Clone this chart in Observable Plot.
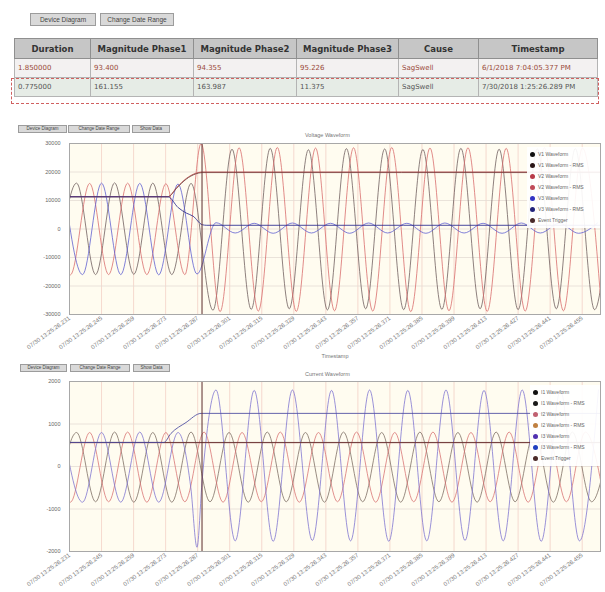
<!DOCTYPE html>
<html><head><meta charset="utf-8">
<script src="https://cdn.jsdelivr.net/npm/d3@7"></script>
<script src="https://cdn.jsdelivr.net/npm/@observablehq/plot@0.6"></script>
<style>
html,body{margin:0;padding:0;background:#fff;}
#page{position:relative;width:605px;height:592px;overflow:hidden;font-family:"DejaVu Sans",Verdana,sans-serif;}
.btn{position:absolute;background:#d9d9d9;border:1px solid #9c9c9c;box-sizing:border-box;color:#444;font-family:"Liberation Sans",Arial,sans-serif;text-align:center;white-space:nowrap;overflow:hidden;}
.btn.big{height:13px;font-size:6.5px;line-height:11px;}
.btn.small{height:8px;font-size:4.5px;line-height:6px;}
table{position:absolute;left:14px;top:38px;border-collapse:collapse;table-layout:fixed;width:583px;}
th{background:#c6c6c6;border:1px solid #8f8f8f;height:19px;font-size:8.5px;color:#333;padding:0;white-space:nowrap;overflow:hidden;}
td{border:1px solid #b4b4b4;height:18px;font-size:7px;padding:0 0 0 3px;color:#555;white-space:nowrap;overflow:hidden;}
tr.r1 td{background:#f3f1f1;color:#9a4a3a;}
tr.r2 td{background:#e6ece6;}
#sel{position:absolute;left:11px;top:78px;width:588px;height:26px;border:1px dashed #d06060;box-sizing:border-box;}
.title{position:absolute;font-family:"Liberation Sans",Arial,sans-serif;font-size:5.5px;color:#777;white-space:nowrap;}
.chart{position:absolute;left:0;}
.legend{position:absolute;background:rgba(255,255,255,0.92);font-family:"Liberation Sans",Arial,sans-serif;font-size:5px;color:#666;}
.legend .it{position:absolute;left:0;height:8px;line-height:8px;white-space:nowrap;}
.legend .mk{position:absolute;left:3px;top:1.5px;width:5px;height:5px;border-radius:50%;}
.legend .lb{position:absolute;left:11px;top:0;}
</style></head>
<body><div id="page"></div>
<script>
// ---------- table data ----------
const headers = ["Duration","Magnitude Phase1","Magnitude Phase2","Magnitude Phase3","Cause","Timestamp"];
const colWidths = [76,103,103,102,80,119];
const durations = ["1.850000","0.775000"];
const mag1 = ["93.400","161.155"];
const mag2 = ["94.355","163.987"];
const mag3 = ["95.226","11.375"];
const causes = ["SagSwell","SagSwell"];
const timestamps = ["6/1/2018 7:04:05.377 PM","7/30/2018 1:25:26.289 PM"];
const topButtons = ["Device Diagram","Change Date Range"];
const chartButtons = ["Device Diagram","Change Date Range","Show Data"];

// ---------- time axis (ms from window start) ----------
const tickTimes = [0,14,28,42,56,70,84,98,112,126,140,154,168,182,196,210,224];
const tickLabels = ["07/30 13:25:26.231","07/30 13:25:26.245","07/30 13:25:26.259","07/30 13:25:26.273","07/30 13:25:26.287","07/30 13:25:26.301","07/30 13:25:26.315","07/30 13:25:26.329","07/30 13:25:26.343","07/30 13:25:26.357","07/30 13:25:26.371","07/30 13:25:26.385","07/30 13:25:26.399","07/30 13:25:26.413","07/30 13:25:26.427","07/30 13:25:26.441","07/30 13:25:26.455"];
const triggerTime = 57.9;

// ---------- voltage chart: waveform extremes (peaks / troughs) ----------
const v1T = [-5.3,3.1,11.4,19.7,28.1,36.4,44.7,53.1,62.7,71.0,79.4,87.7,96.0,104.4,112.7,121.0,129.4,137.7,146.0,154.4,162.7,171.0,179.4,187.7,196.0,204.4,212.7,221.0,229.4,237.7];
const v1V = [-16000,16100,-16000,16200,-15900,16100,-16000,16000,-28500,28000,-28200,28300,-28000,27800,-28400,28200,-28000,28100,-28300,27900,-28200,28300,-28000,28000,-28300,28100,-28000,28200,-28300,28000];
const v2T = [-7.9,0.4,8.8,17.1,25.4,33.8,42.1,50.4,57.5,65.8,74.1,82.5,90.8,99.1,107.5,115.8,124.1,132.5,140.8,149.1,157.5,165.8,174.1,182.5,190.8,199.1,207.5,215.8,224.1,232.5];
const v2V = [16000,-16100,16000,-16000,16100,-16000,15900,-16000,30000,-29000,28500,-28800,28600,-28900,28400,-28700,28500,-28800,28600,-29000,28400,-28700,28500,-28900,28300,-28800,28500,-28700,28400,-28800];
const v3T = [-2.6,5.7,14.0,22.4,30.7,39.0,47.4,55.7,64.0,72.4,80.7,89.0,97.4,105.7,114.0,122.4,130.7,139.0,147.4,155.7,164.0,172.4,180.7,189.0,197.4,205.7,214.0,222.4,230.7];
const v3V = [16000,-16000,16100,-16000,16000,-16100,15800,-15800,2200,-1400,2000,-1500,2100,-1400,2000,-1500,2100,-1400,2000,-1500,2100,-1400,2000,-1500,2100,-1400,2000,-1500,2100];
const v1RmsT = [0,43,47,51,55,58,232];
const v1RmsV = [11300,11300,14500,17500,19300,19800,19800];
const v2RmsT = [0,43,47,51,55,58,232];
const v2RmsV = [11350,11350,14700,17700,19500,20000,20000];
const v3RmsT = [0,43,47.5,51,54,58,60,232];
const v3RmsV = [11300,11300,7500,5600,4500,1500,1300,1300];
const vTicks = [-30000,-20000,-10000,0,10000,20000,30000];

// ---------- current chart ----------
const i1T = [-5.3,3.1,11.4,19.7,28.1,36.4,44.7,53.1,61.4,69.7,78.1,86.4,94.7,103.1,111.4,119.7,128.1,136.4,144.7,153.1,161.4,169.7,178.1,186.4,194.7,203.1,211.4,219.7,228.1,236.4];
const i1V = [-840,800,-830,810,-840,800,-840,810,-830,800,-840,810,-830,800,-840,810,-830,800,-840,810,-830,800,-840,810,-830,800,-840,810,-830,800];
const i2T = [-7.9,0.4,8.8,17.1,25.4,33.8,42.1,50.4,58.8,67.1,75.4,83.8,92.1,100.4,108.8,117.1,125.4,133.8,142.1,150.4,158.8,167.1,175.4,183.8,192.1,200.4,208.8,217.1,225.4,233.8];
const i2V = [810,-840,800,-830,810,-840,800,-830,810,-840,800,-830,810,-840,800,-830,810,-840,800,-830,810,-840,800,-830,810,-840,800,-830,810,-840];
const i3T = [-2.6,5.7,14.0,22.4,30.7,39.0,47.4,53.0,55.7,58.0,64.0,72.4,80.7,89.0,97.4,106.1,114.5,122.8,131.1,139.5,147.8,156.1,164.5,172.8,181.1,189.5,197.8,206.1,214.5,222.8,231.1];
const i3V = [800,-840,800,-840,810,-840,800,-500,-1900,-300,1800,-1750,1790,-1760,1800,-1740,1790,-1750,1800,-1760,1790,-1750,1800,-1740,1790,-1750,1800,-1760,1790,-1750,1800];
const i1RmsT = [0,232];
const i1RmsV = [566,566];
const i2RmsT = [0,232];
const i2RmsV = [560,560];
const i3RmsT = [0,41.2,44.3,50.9,57.5,232];
const i3RmsV = [566,566,776,1035,1250,1250];
const iTicks = [-2000,-1000,0,1000,2000];

const vLegend = ["V1 Waveform","V1 Waveform - RMS","V2 Waveform","V2 Waveform - RMS","V3 Waveform","V3 Waveform - RMS","Event Trigger"];
const vLegendColors = ["#111111","#2a1616","#b83a48","#c04a58","#3333c4","#22227a","#4a2a2a"];
const iLegend = ["I1 Waveform","I1 Waveform - RMS","I2 Waveform","I2 Waveform - RMS","I3 Waveform","I3 Waveform - RMS","Event Trigger"];
const iLegendColors = ["#111111","#1a1a1a","#c06070","#c08040","#5030b0","#2040c0","#4a2a2a"];

// ---------- build page ----------
const page = document.getElementById("page");
function el(tag, cls, style, text){const e=document.createElement(tag); if(cls)e.className=cls; if(style)e.setAttribute("style",style); if(text!=null)e.textContent=text; page.appendChild(e); return e;}

el("div","btn big","left:30px;top:13px;width:66px;",topButtons[0]);
el("div","btn big","left:100px;top:13px;width:74px;",topButtons[1]);

const table = el("table");
const cg = document.createElement("colgroup");
colWidths.forEach(w=>{const c=document.createElement("col"); c.style.width=w+"px"; cg.appendChild(c);});
table.appendChild(cg);
const hr = document.createElement("tr");
headers.forEach(h=>{const th=document.createElement("th"); th.textContent=h; hr.appendChild(th);});
table.appendChild(hr);
durations.forEach((d,i)=>{
  const tr=document.createElement("tr"); tr.className="r"+(i+1);
  [d,mag1[i],mag2[i],mag3[i],causes[i],timestamps[i]].forEach(v=>{const td=document.createElement("td"); td.textContent=v; tr.appendChild(td);});
  table.appendChild(tr);
});
el("div",null,null).id="sel";

const labelMap = new Map(tickTimes.map((t,i)=>[t,tickLabels[i]]));
const pts = (T,V)=>T.map((t,i)=>({t, v:V[i]}));

function drawChart(cfg){
  const marks = [
    Plot.frame({fill:"#fffcf0", stroke:null}),
    Plot.gridX(tickTimes,{stroke:"#f0c4bc", strokeOpacity:0.8, strokeWidth:0.8}),
    Plot.gridY(cfg.yTicks,{stroke:"#e4dcd4", strokeOpacity:1, strokeWidth:0.8}),
    Plot.axisY(cfg.yTicks,{tickSize:0, tickPadding:9, tickFormat:d=>String(d), fontSize:5.5, fill:"#666", label:null}),
    Plot.axisX(tickTimes,{tickSize:0, tickPadding:3, tickRotate:-36, tickFormat:d=>labelMap.get(d), fontSize:6, fill:"#777", label:null}),
  ];
  cfg.waves.forEach(s=>marks.push(Plot.line(pts(s.t,s.v),{x:"t",y:"v",stroke:s.color,strokeWidth:0.9,strokeOpacity:0.85,curve:"monotone-x",clip:true})));
  cfg.rms.forEach(s=>marks.push(Plot.line(pts(s.t,s.v),{x:"t",y:"v",stroke:s.color,strokeWidth:1,strokeOpacity:0.85,curve:"monotone-x",clip:true})));
  marks.push(Plot.ruleX([triggerTime],{stroke:"#5b2b2b",strokeWidth:1}));
  marks.push(Plot.frame({stroke:"#a8a8a8"}));
  if(cfg.xlabel) marks.push(Plot.text([cfg.xlabel],{frameAnchor:"bottom",dy:43,fontSize:5.5,fill:"#777"}));
  return Plot.plot({
    width:605, height:cfg.height, marginLeft:69, marginRight:5, marginTop:4, marginBottom:cfg.mb,
    style:{fontFamily:"Liberation Sans, Arial, sans-serif", background:"transparent", overflow:"visible"},
    x:{domain:[0,232]}, y:{domain:cfg.yDomain},
    marks
  });
}

function legend(left, top, labels, colors){
  const lg = el("div","legend",`left:${left}px;top:${top}px;width:${600-left}px;height:${labels.length*11+4}px;`);
  labels.forEach((l,i)=>{
    const it=document.createElement("div"); it.className="it"; it.style.top=(3+i*11)+"px"; it.style.width="100%";
    const mk=document.createElement("div"); mk.className="mk"; mk.style.background=colors[i];
    const lb=document.createElement("div"); lb.className="lb"; lb.textContent=l;
    it.appendChild(mk); it.appendChild(lb); lg.appendChild(it);
  });
}

// chart 1
[[18,49],[68,62],[132,38]].forEach(([x,w],i)=>el("div","btn small",`left:${x}px;top:125px;width:${w}px;`,chartButtons[i]));
el("div","title","left:305px;top:132px;","Voltage Waveform");
const c1 = el("div","chart","top:139px;");
c1.appendChild(drawChart({
  height:225, mb:50, yDomain:[-30000,30000], yTicks:vTicks, xlabel:"Timestamp",
  waves:[{t:v1T,v:v1V,color:"#6a5a5a"},{t:v2T,v:v2V,color:"#d86868"},{t:v3T,v:v3V,color:"#5a5ad0"}],
  rms:[{t:v1RmsT,v:v1RmsV,color:"#5a4040"},{t:v2RmsT,v:v2RmsV,color:"#b04848"},{t:v3RmsT,v:v3RmsV,color:"#2a2a90"}]
}));
legend(527,147,vLegend,vLegendColors);

// chart 2
[[20,47],[70,60],[133,37]].forEach(([x,w],i)=>el("div","btn small",`left:${x}px;top:364px;width:${w}px;`,chartButtons[i]));
el("div","title","left:305px;top:371px;","Current Waveform");
const c2 = el("div","chart","top:377px;");
c2.appendChild(drawChart({
  height:215, mb:41, yDomain:[-2000,2000], yTicks:iTicks, xlabel:null,
  waves:[{t:i1T,v:i1V,color:"#7a6a60"},{t:i2T,v:i2V,color:"#d87070"},{t:i3T,v:i3V,color:"#7a70d0"}],
  rms:[{t:i1RmsT,v:i1RmsV,color:"#222222"},{t:i2RmsT,v:i2RmsV,color:"#8a4040"},{t:i3RmsT,v:i3RmsV,color:"#4a4aa0"}]
}));
legend(530,385,iLegend,iLegendColors);
</script>
</body></html>
